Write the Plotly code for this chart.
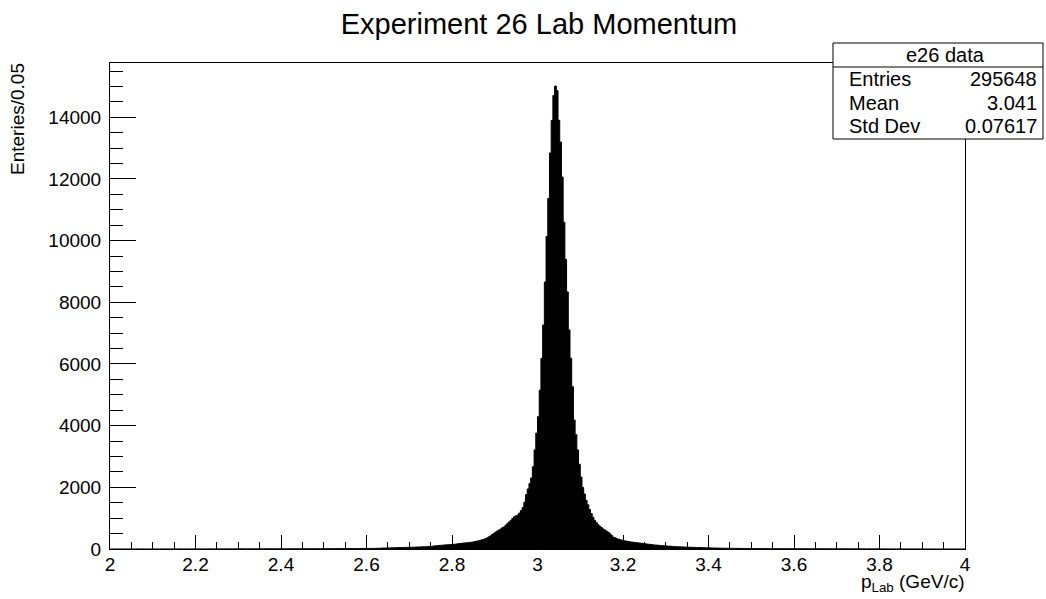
import plotly.graph_objects as go

# ---------------- data ----------------
BIN_LOW = 2.0
BIN_WIDTH = 0.004          # 500 bins between 2 and 4
# counts of bins 0..199  (p = 2.000 .. 2.800)
COUNTS_LEFT = [
    1, 0, 2, 1, 1, 2, 0, 1, 3, 1, 2, 1, 2, 2, 1, 3, 2, 1, 2, 3,
    2, 2, 1, 3, 2, 2, 3, 2, 1, 3, 2, 3, 3, 2, 2, 4, 3, 2, 3, 3,
    2, 4, 3, 3, 2, 4, 3, 3, 4, 3,
    3, 4, 3, 4, 3, 4, 4, 3, 5, 4, 3, 4, 5, 4, 4, 5, 3, 5, 4, 5,
    5, 4, 5, 6, 4, 5, 5, 6, 5, 4, 6, 5, 6, 5, 6, 6, 5, 7, 6, 5,
    6, 7, 6, 6, 7, 6, 7, 7, 6, 8,
    7, 7, 8, 7, 8, 7, 8, 9, 8, 8, 9, 8, 9, 9, 8, 10, 9, 9, 10, 10,
    9, 11, 10, 10, 11,
    11, 10, 12, 11, 12, 13, 12, 13, 14, 13, 14, 14, 15, 14, 16, 15, 16, 15, 17, 16,
    17, 18, 17, 18, 19, 18, 19, 20, 19, 20,
    21, 24, 24, 27, 30, 30, 33, 36, 35, 39, 40, 42, 42, 45, 46, 47, 49, 50, 52, 53,
    55, 57, 58, 60, 64, 65, 66, 70, 71, 72, 76, 80, 84, 92, 95, 103, 107, 115, 119, 125,
    127, 134, 136, 141, 144,
]
# counts of bins 200..300  (p = 2.800 .. 3.204)
COUNTS_CORE = [
    148, 153, 161, 168, 179, 184, 191, 194, 201, 206,
    213, 219, 228, 242, 253, 266, 279, 297, 308, 332,
    358, 392, 423, 471, 503, 547, 578, 618, 648, 688,
    717, 772, 823, 878, 927, 992, 1046, 1079, 1098, 1163,
    1247, 1342, 1518, 1763, 1948, 2122,
    2304, 2668, 3213, 3757, 4291, 5148, 6183, 7262, 8657, 10134,
    11368, 12843, 13897, 14706, 15012, 14868, 13903, 13198, 12063, 10597,
    9392, 8338, 7104, 6187, 5263,
    4182, 3708, 3214, 2748, 2333, 1997, 1783, 1578, 1432, 1278,
    1152, 1028, 927, 853, 787, 738, 692, 648, 617, 573,
    542, 488, 433, 378, 362, 333, 317, 298, 287, 268,
]
# counts of bins 301..499  (p = 3.204 .. 4.000)
COUNTS_RIGHT = [
    262, 248, 241, 229, 223, 214, 209, 199, 196, 187,
    181, 174, 166, 157, 151, 142, 138, 129, 127, 120,
    117, 110, 107, 101, 99, 93, 91, 85, 83, 76,
    75, 71, 70, 67, 66, 62, 62, 58, 57, 54,
    53, 51, 49, 48, 46, 44, 43, 40, 38, 37, 34, 34, 31, 30, 29, 28, 27, 25, 25, 24,
    24, 22, 22, 22, 20, 21, 19, 19, 18, 18, 17, 16, 16, 15, 15,
    15, 14, 15, 14, 13, 14, 13, 13, 12, 13, 12, 12, 11, 12, 11, 11, 10, 11, 10, 10,
    11, 10, 9, 10, 10,
    9, 10, 9, 9, 8, 9, 9, 8, 8, 9, 8, 8, 7, 8, 8, 7, 8, 7, 7, 7,
    6, 7, 7, 6, 7, 6, 6, 7, 6, 6, 5, 6, 6, 5, 6, 5, 5, 6, 5, 5,
    5, 4, 5, 5, 4, 5, 4, 5, 4, 4,
    4, 5, 4, 4, 3, 4, 4, 3, 4, 3, 4, 3, 3, 4, 3, 3, 2, 3, 3, 3,
    2, 3, 2, 3, 2, 2, 3, 2, 2, 3, 2, 2, 1, 2, 2, 2, 1, 2, 2, 1,
    2, 1, 2, 1, 1, 2, 1, 1, 2,
]
TITLE = "Experiment 26 Lab Momentum"
X_TITLE = "p<sub>Lab</sub> (GeV/c)"
Y_TITLE = "Enteries/0.05"
STATS_NAME = "e26 data"
STATS_LABELS = ["Entries", "Mean", "Std Dev"]
STATS_VALUES = ["295648", "3.041", "0.07617"]

counts = COUNTS_LEFT + COUNTS_CORE + COUNTS_RIGHT
n = len(counts)
edges = [BIN_LOW + BIN_WIDTH * i for i in range(n + 1)]
ys = counts + [counts[-1]]

FONT = "Liberation Sans, Arial, Helvetica, sans-serif"

# plot-area geometry (pixels)
W, H = 1046, 599
L, R, T, B = 110, 81, 63, 50
PW, PH = W - L - R, H - T - B


def px_x(px):
    return (px - L) / PW


def px_y(py):
    return (H - B - py) / PH


fig = go.Figure()
fig.add_trace(go.Scatter(
    x=edges, y=ys, mode="lines", line=dict(shape="hv", color="black", width=1),
    fill="tozeroy", fillcolor="black", hoverinfo="skip", showlegend=False,
))

axis_common = dict(
    showgrid=False, zeroline=False, showline=True, linecolor="black", linewidth=1,
    mirror=True, ticks="inside", tickcolor="black",
    tickfont=dict(family=FONT, size=19, color="black"),
)
fig.update_xaxes(
    range=[2, 4], tick0=2, dtick=0.2, ticklen=14,
    minor=dict(ticks="inside", dtick=0.05, ticklen=7, tickcolor="black"),
    ticklabelstandoff=-2,
    **axis_common,
)
fig.update_yaxes(
    range=[0, 15760], tick0=0, dtick=2000, ticklen=26, tickformat="d",
    minor=dict(ticks="inside", dtick=500, ticklen=13, tickcolor="black"),
    ticklabelstandoff=4,
    **axis_common,
)

shapes = [
    dict(type="rect", xref="paper", yref="paper",
         x0=px_x(833), x1=px_x(1043), y0=px_y(139), y1=px_y(43),
         line=dict(color="black", width=1), fillcolor="white", layer="above"),
    dict(type="line", xref="paper", yref="paper",
         x0=px_x(833), x1=px_x(1043), y0=px_y(67), y1=px_y(67),
         line=dict(color="black", width=1), layer="above"),
]

annotations = [
    dict(text=STATS_NAME, xref="paper", yref="paper", x=px_x(945), y=px_y(55),
         xanchor="center", yanchor="middle", showarrow=False,
         font=dict(family=FONT, size=20, color="black")),
    dict(text=Y_TITLE, xref="paper", yref="paper", x=px_x(18), y=px_y(61),
         xanchor="center", yanchor="top", textangle=-90, showarrow=False,
         font=dict(family=FONT, size=19, color="black")),
    dict(text=X_TITLE, xref="paper", yref="paper", x=px_x(967), y=px_y(583),
         xanchor="right", yanchor="middle", showarrow=False,
         font=dict(family=FONT, size=19, color="black")),
]
row_y = [79, 103, 126]
for lab, val, ry in zip(STATS_LABELS, STATS_VALUES, row_y):
    annotations.append(dict(text=lab, xref="paper", yref="paper", x=px_x(847), y=px_y(ry),
                            xanchor="left", yanchor="middle", showarrow=False,
                            font=dict(family=FONT, size=20, color="black")))
    annotations.append(dict(text=val, xref="paper", yref="paper", x=px_x(1039), y=px_y(ry),
                            xanchor="right", yanchor="middle", showarrow=False,
                            font=dict(family=FONT, size=20, color="black")))

fig.update_layout(
    width=W, height=H,
    margin=dict(l=L, r=R, t=T, b=B),
    paper_bgcolor="white", plot_bgcolor="white",
    title=dict(text=TITLE, x=px_x(539), xref="paper", xanchor="center",
               y=1 - 24 / H, yref="container", yanchor="middle",
               font=dict(family=FONT, size=29, color="black")),
    shapes=shapes, annotations=annotations,
    showlegend=False,
)

fig.write_html("out.html")
